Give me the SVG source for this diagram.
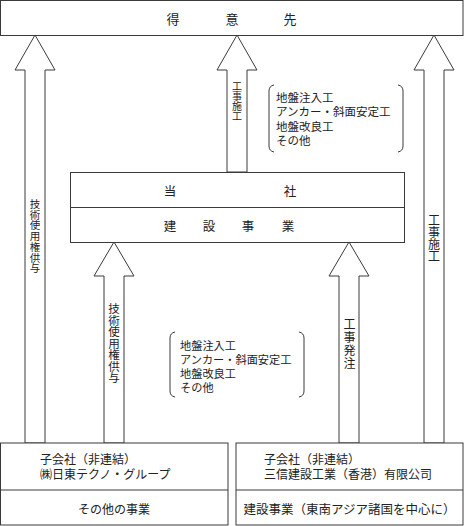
<svg xmlns="http://www.w3.org/2000/svg" width="464" height="526" viewBox="0 0 464 526">
<style>
.box{fill:#fff;stroke:#3a3a3a;stroke-width:1}
.arr{fill:#fff;stroke:#3a3a3a;stroke-width:1;stroke-linejoin:miter}
.brk{fill:none;stroke:#3a3a3a;stroke-width:1}
text{font-family:"Noto Sans CJK JP","Noto Sans",sans-serif;fill:#222;dominant-baseline:central}
.t13{font-size:13px}
.t12{font-size:12px}
.t12b{font-size:12.5px}
.t115{font-size:11.5px}
.t112{font-size:11.2px}
.v{text-anchor:middle}
</style>
<rect width="464" height="526" fill="#fff"/>
<g id="connectors">
<polygon class="arr" points="35,35 55,70 45,70 45,443 25,443 25,70 15,70"/>
<polygon class="arr" points="237,35 257,70 247,70 247,172 227,172 227,70 217,70"/>
<polygon class="arr" points="434,35 454,70 444,70 444,443 424,443 424,70 414,70"/>
<polygon class="arr" points="114,242 134,276 124,276 124,443 104,443 104,276 94,276"/>
<polygon class="arr" points="349,242 369,276 359,276 359,443 339,443 339,276 329,276"/>
<text class="v" style="font-size:10.5px"><tspan x="35" y="203">技</tspan><tspan x="35" dy="10.7">術</tspan><tspan x="35" dy="10.7">使</tspan><tspan x="35" dy="10.7">用</tspan><tspan x="35" dy="10.7">権</tspan><tspan x="35" dy="10.7">供</tspan><tspan x="35" dy="10.7">与</tspan></text>
<text class="v" style="font-size:10px"><tspan x="237" y="85">工</tspan><tspan x="237" dy="10">事</tspan><tspan x="237" dy="10">施</tspan><tspan x="237" dy="10">工</tspan></text>
<text class="v" style="font-size:12px"><tspan x="434" y="219">工</tspan><tspan x="434" dy="12">事</tspan><tspan x="434" dy="12">施</tspan><tspan x="434" dy="12">工</tspan></text>
<text class="v" style="font-size:11.5px"><tspan x="114" y="308">技</tspan><tspan x="114" dy="11.5">術</tspan><tspan x="114" dy="11.5">使</tspan><tspan x="114" dy="11.5">用</tspan><tspan x="114" dy="11.5">権</tspan><tspan x="114" dy="11.5">供</tspan><tspan x="114" dy="11.5">与</tspan></text>
<text class="v" style="font-size:12px"><tspan x="349.5" y="323">工</tspan><tspan x="349.5" dy="13">事</tspan><tspan x="349.5" dy="13">発</tspan><tspan x="349.5" dy="13">注</tspan></text>
</g>
<g id="customer">
<rect class="box" x="0.5" y="0.5" width="462.5" height="35"/>
<text class="t13" x="173" y="18.5" text-anchor="middle">得</text>
<text class="t13" x="232" y="18.5" text-anchor="middle">意</text>
<text class="t13" x="290" y="18.5" text-anchor="middle">先</text>
</g>
<g id="company">
<rect class="box" x="70.5" y="172.5" width="334" height="70"/>
<line class="box" x1="70.5" y1="207.5" x2="404.5" y2="207.5"/>
<text class="t12b" x="170" y="190.5" text-anchor="middle">当</text>
<text class="t12b" x="290" y="190.5" text-anchor="middle">社</text>
<text class="t12b" x="170" y="225" text-anchor="middle">建</text>
<text class="t12b" x="209" y="225" text-anchor="middle">設</text>
<text class="t12b" x="248" y="225" text-anchor="middle">事</text>
<text class="t12b" x="288" y="225" text-anchor="middle">業</text>
</g>
<g id="works-upper">
<path class="brk" d="M274,85 Q269,86 269,91 L269,146 Q269,151 274,152"/>
<path class="brk" d="M398,85 Q403,86 403,91 L403,146 Q403,151 398,152"/>
<text class="t115" x="276" y="96.5">地盤注入工</text>
<text class="t115" x="276" y="111">アンカー・斜面安定工</text>
<text class="t115" x="276" y="125.5">地盤改良工</text>
<text class="t115" x="276" y="140">その他</text>
</g>
<g id="works-lower">
<path class="brk" d="M175,332 Q170,333 170,338 L170,391 Q170,396 175,397"/>
<path class="brk" d="M299,332 Q304,333 304,338 L304,391 Q304,396 299,397"/>
<text class="t112" x="180" y="344.5">地盤注入工</text>
<text class="t112" x="180" y="358.5">アンカー・斜面安定工</text>
<text class="t112" x="180" y="372.5">地盤改良工</text>
<text class="t112" x="180" y="386.5">その他</text>
</g>
<g id="nitto-techno">
<rect class="box" x="0.5" y="443" width="227.5" height="82"/>
<line class="box" x1="0.5" y1="490" x2="228" y2="490"/>
<text class="t12" x="40" y="458.5">子会社（非連結）</text>
<text class="t12" x="40" y="473.5">㈱日東テクノ・グループ</text>
<text class="t12" x="114" y="508" text-anchor="middle">その他の事業</text>
</g>
<g id="sanshin">
<rect class="box" x="236" y="443" width="227" height="82"/>
<line class="box" x1="236" y1="490" x2="463" y2="490"/>
<text class="t12" x="264" y="458.5">子会社（非連結）</text>
<text class="t12" x="264" y="473.5">三信建設工業（香港）有限公司</text>
<text class="t12b" x="349.5" y="508" text-anchor="middle">建設事業（東南アジア諸国を中心に）</text>
</g>
</svg>
